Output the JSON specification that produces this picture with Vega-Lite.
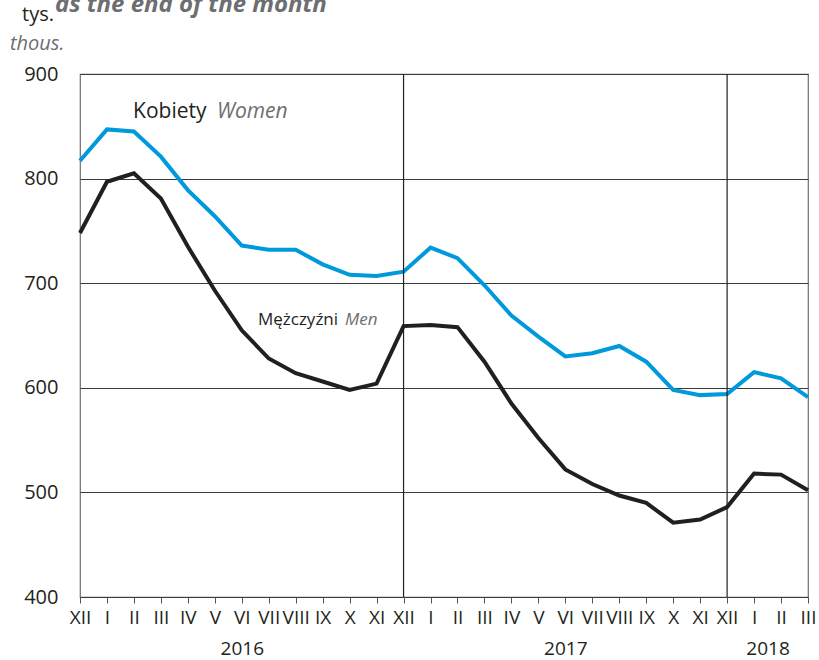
{
  "$schema": "https://vega.github.io/schema/vega-lite/v6.json",
  "width": 728,
  "height": 523,
  "autosize": {"type": "none"},
  "padding": {"left": 80, "top": 74, "right": 11, "bottom": 63},
  "background": "white",
  "config": {
    "font": "Open Sans",
    "view": {"stroke": "#6d6e71", "strokeWidth": 1.2}
  },
  "datasets": {
    "series": [
      {"i": 0, "women": 817, "men": 748},
      {"i": 1, "women": 847, "men": 797},
      {"i": 2, "women": 845, "men": 805},
      {"i": 3, "women": 821, "men": 781},
      {"i": 4, "women": 789, "men": 735},
      {"i": 5, "women": 764, "men": 693},
      {"i": 6, "women": 736, "men": 655},
      {"i": 7, "women": 732, "men": 628},
      {"i": 8, "women": 732, "men": 614},
      {"i": 9, "women": 718, "men": 606},
      {"i": 10, "women": 708, "men": 598},
      {"i": 11, "women": 707, "men": 604},
      {"i": 12, "women": 711, "men": 659},
      {"i": 13, "women": 734, "men": 660},
      {"i": 14, "women": 724, "men": 658},
      {"i": 15, "women": 698, "men": 625},
      {"i": 16, "women": 669, "men": 585},
      {"i": 17, "women": 649, "men": 552},
      {"i": 18, "women": 630, "men": 522},
      {"i": 19, "women": 633, "men": 508},
      {"i": 20, "women": 640, "men": 497},
      {"i": 21, "women": 625, "men": 490},
      {"i": 22, "women": 598, "men": 471},
      {"i": 23, "women": 593, "men": 474},
      {"i": 24, "women": 594, "men": 486},
      {"i": 25, "women": 615, "men": 518},
      {"i": 26, "women": 609, "men": 517},
      {"i": 27, "women": 591, "men": 502}
    ],
    "dividers": [{"i": 12}, {"i": 24}],
    "labels_main": [
      {"x": 1.97, "y": 864, "t": "Kobiety", "s": 21},
      {"x": 6.6, "y": 665, "t": "Mężczyźni", "s": 17},
      {"x": -2.15, "y": 956, "t": "tys.", "s": 20}
    ],
    "labels_en": [
      {"x": 5.08, "y": 864, "t": "Women", "s": 21},
      {"x": 9.83, "y": 665, "t": "Men", "s": 17},
      {"x": -2.6, "y": 929, "t": "thous.", "s": 20}
    ],
    "heading": [
      {"x": -0.93, "y": 959, "t": "as the end of the month"}
    ]
  },
  "layer": [
    {
      "data": {"name": "series"},
      "mark": {"type": "line", "color": "#0099dc", "strokeWidth": 4, "strokeJoin": "miter"},
      "encoding": {
        "x": {
          "field": "i",
          "type": "quantitative",
          "scale": {"domain": [0, 27], "nice": false, "zero": false},
          "axis": {
            "title": null,
            "grid": false,
            "domain": false,
            "tickCount": 100,
            "values": [0,1,2,3,4,5,6,7,8,9,10,11,12,13,14,15,16,17,18,19,20,21,22,23,24,25,25.5,26,27],
            "labelExpr": "datum.value == 25.5 ? ['', '2018'] : datum.value == 6 ? ['VI', '2016'] : datum.value == 18 ? ['VI', '2017'] : ['I','II','III','IV','V','VI','VII','VIII','IX','X','XI','XII'][(datum.value + 11) % 12]",
            "labelFlush": false,
            "labelOverlap": false,
            "labelBound": false,
            "labelFontSize": 19,
            "labelColor": "#231f20",
            "labelLineHeight": 31,
            "labelPadding": 5,
            "labelBaseline": "top",
            "tickSize": 6,
            "tickColor": {"condition": {"test": "datum.value == 25.5", "value": "transparent"}, "value": "#555555"},
            "tickWidth": 1
          }
        },
        "y": {
          "field": "women",
          "type": "quantitative",
          "scale": {"domain": [400, 900], "nice": false, "zero": false},
          "axis": {
            "title": null,
            "values": [400, 500, 600, 700, 800, 900],
            "grid": true,
            "gridColor": "#3a3a3a",
            "gridWidth": 1,
            "gridOpacity": 1,
            "domain": false,
            "ticks": false,
            "labelPadding": 22,
            "labelFontSize": 20,
            "labelColor": "#231f20"
          }
        }
      }
    },
    {
      "data": {"name": "series"},
      "mark": {"type": "line", "color": "#231f20", "strokeWidth": 4, "strokeJoin": "miter"},
      "encoding": {
        "x": {"field": "i", "type": "quantitative"},
        "y": {"field": "men", "type": "quantitative"}
      }
    },
    {
      "data": {"name": "dividers"},
      "mark": {"type": "rule", "color": "#231f20", "strokeWidth": 1.2},
      "encoding": {
        "x": {"field": "i", "type": "quantitative"}
      }
    },
    {
      "data": {"name": "labels_main"},
      "mark": {"type": "text", "align": "left", "baseline": "middle", "color": "#231f20", "clip": false},
      "encoding": {
        "x": {"field": "x", "type": "quantitative"},
        "y": {"field": "y", "type": "quantitative"},
        "text": {"field": "t"},
        "size": {"field": "s", "type": "quantitative", "scale": null}
      }
    },
    {
      "data": {"name": "labels_en"},
      "mark": {"type": "text", "align": "left", "baseline": "middle", "fontStyle": "italic", "color": "#6d6e71", "clip": false},
      "encoding": {
        "x": {"field": "x", "type": "quantitative"},
        "y": {"field": "y", "type": "quantitative"},
        "text": {"field": "t"},
        "size": {"field": "s", "type": "quantitative", "scale": null}
      }
    },
    {
      "data": {"name": "heading"},
      "mark": {"type": "text", "align": "left", "baseline": "alphabetic", "fontStyle": "italic", "fontWeight": "bold", "fontSize": 24, "color": "#6d6e71", "clip": false},
      "encoding": {
        "x": {"field": "x", "type": "quantitative"},
        "y": {"field": "y", "type": "quantitative"},
        "text": {"field": "t"}
      }
    }
  ]
}
